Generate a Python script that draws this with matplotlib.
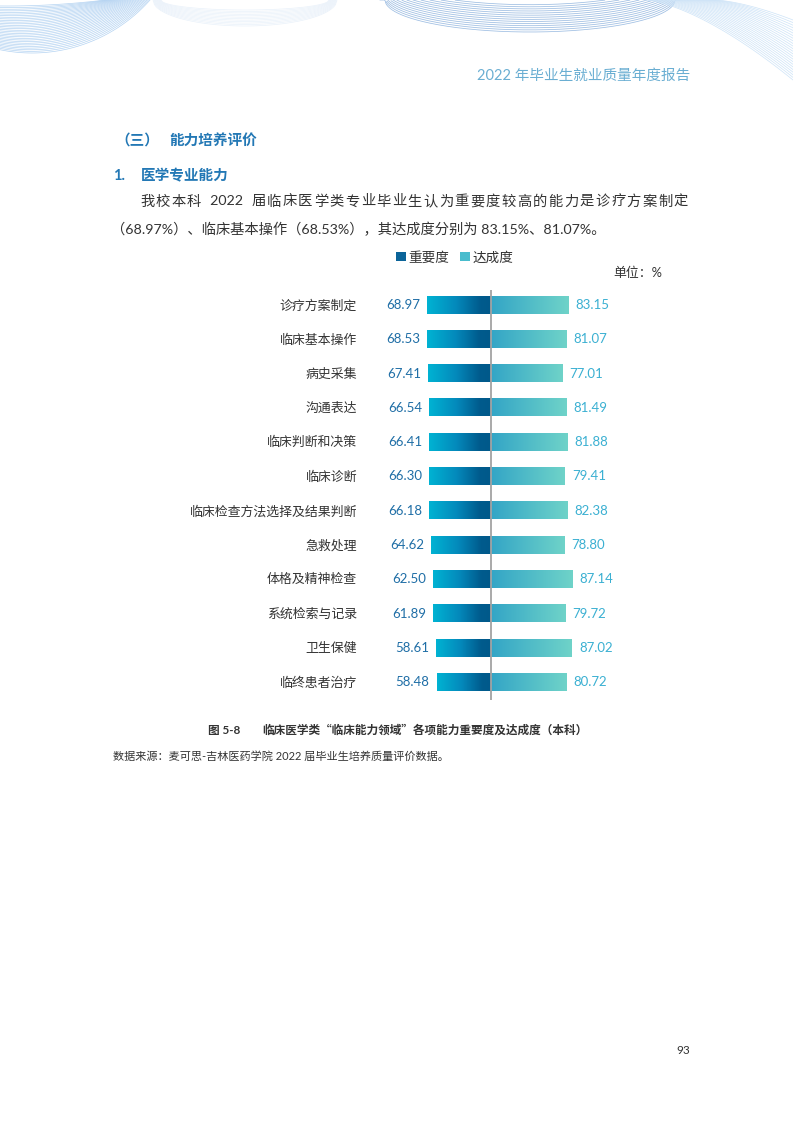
import numpy as np
import matplotlib
matplotlib.use("Agg")
import matplotlib.pyplot as plt
from matplotlib.colors import LinearSegmentedColormap
from matplotlib.patches import Patch

plt.rcParams['font.family'] = ['Lato', 'Noto Sans CJK SC', 'DejaVu Sans']

# data
abilities = ['诊疗方案制定', '临床基本操作', '病史采集', '沟通表达', '临床判断和决策',
             '临床诊断', '临床检查方法选择及结果判断', '急救处理', '体格及精神检查',
             '系统检索与记录', '卫生保健', '临终患者治疗']
importance = [68.97, 68.53, 67.41, 66.54, 66.41, 66.30, 66.18, 64.62, 62.50, 61.89, 58.61, 58.48]
achievement = [83.15, 81.07, 77.01, 81.49, 81.88, 79.41, 82.38, 78.80, 87.14, 79.72, 87.02, 80.72]
series_names = ['重要度', '达成度']

W, H = 793, 1122
fig = plt.figure(figsize=(W / 100, H / 100), dpi=100)
fig.patch.set_facecolor('white')

# page layer in pixel coords
bg = fig.add_axes([0, 0, 1, 1])
bg.set_xlim(0, W)
bg.set_ylim(H, 0)
bg.axis('off')

# header decoration: bundles of thin arcs
for k in range(30):
    t = k / 29
    yb = 53 - 47 * t
    xr = 150 - 45 * t
    cx = 32 - 25 * t
    R = ((xr - cx) ** 2 + yb ** 2) / (2 * yb)
    xs = np.linspace(0, xr, 120)
    ys = (yb - R) + np.sqrt(np.clip(R ** 2 - (xs - cx) ** 2, 0, None))
    bg.plot(xs, ys, color='#b4d3f2', lw=0.5)

for k in range(12):
    t = k / 11
    yb = 26 - 16 * t
    cx = 245
    a = 92 - 8 * t
    xs = np.linspace(cx - a, cx + a, 120)
    ys = yb * np.sqrt(np.clip(1 - ((xs - cx) / a) ** 2, 0, None))
    bg.plot(xs, ys, color='#e9f1fa', lw=0.5)

xs = np.linspace(380, 680, 300)
base = 32 * np.sqrt(np.clip(1 - ((xs - 530) / 145) ** 2, 0, None))
for k in range(14):
    ys = base - 2.1 * k
    keep = ys >= 0
    bg.plot(xs[keep], ys[keep], color='#9dbde2', lw=0.55)

for k in range(24):
    t = k / 23
    x0 = 645 + 70 * t
    y1 = 80 - 60 * t
    xs = np.linspace(x0, W, 80)
    ys = y1 * ((xs - x0) / (W - x0)) ** 1.5
    bg.plot(xs, ys, color='#cde3f7', lw=0.5)

bg.text(690, 76, '2022 年毕业生就业质量年度报告', fontsize=10.5, color='#6aaed2',
        ha='right', va='center')

blue = '#2378b5'
bg.text(115, 141, '（三）', fontsize=10.5, color=blue, fontweight='bold', va='center')
bg.text(169, 141, '能力培养评价', fontsize=10.5, color=blue, fontweight='bold', va='center')
bg.text(113, 176, '1.', fontsize=10.5, color=blue, fontweight='bold', va='center')
bg.text(141, 176, '医学专业能力', fontsize=10.5, color=blue, fontweight='bold', va='center')

fig.canvas.draw()
renderer = fig.canvas.get_renderer()


def justified(tokens, x0, x1, y, **kw):
    texts = [bg.text(0, y, tk, va='center', **kw) for tk in tokens]
    widths = [t.get_window_extent(renderer).width for t in texts]
    gap = (x1 - x0 - sum(widths)) / (len(tokens) - 1)
    x = x0
    for t, w in zip(texts, widths):
        t.set_x(x)
        x += w + gap


body = dict(fontsize=10.3, color='#333333')
line1 = list('我校本科') + ['\u20022022\u2002'] + list('届临床医学类专业毕业生认为重要度较高的能力是诊疗方案制定')
justified(line1, 140, 688, 201, **body)
bg.text(111, 229, '（68.97%）、临床基本操作（68.53%），其达成度分别为 83.15%、81.07%。',
        va='center', **body)

# chart
CENTER_PX, PX_PER_UNIT = 491, 0.93
ROW0_PX, ROW_PX = 305, 34.3
ax_l, ax_r, ax_t, ax_b = 362, 640, 290, 700
ax = fig.add_axes([ax_l / W, 1 - ax_b / H, (ax_r - ax_l) / W, (ax_b - ax_t) / H])
ax.axis('off')
ax.patch.set_alpha(0)

cmap_imp = LinearSegmentedColormap.from_list(
    'imp', [(0, '#00b3d3'), (0.45, '#0489bb'), (0.82, '#005b8d'), (1, '#00598a')])
cmap_ach = LinearSegmentedColormap.from_list('ach', [(0, '#33a5c6'), (1, '#6fd3c9')])
grad = np.linspace(0, 1, 256).reshape(1, -1)
bh = 0.25

for i, (name, vi, va_) in enumerate(zip(abilities, importance, achievement)):
    ax.imshow(grad, cmap=cmap_imp, extent=[-vi, 0, i + bh, i - bh], aspect='auto',
              interpolation='bicubic')
    ax.imshow(grad, cmap=cmap_ach, extent=[0, va_, i + bh, i - bh], aspect='auto',
              interpolation='bicubic')
    ax.annotate(f'{vi:.2f}', xy=(-vi, i), xytext=(-7, 0), textcoords='offset pixels',
                ha='right', va='center', fontsize=9.5, color='#1f6ea6')
    ax.annotate(f'{va_:.2f}', xy=(va_, i), xytext=(7, 0), textcoords='offset pixels',
                ha='left', va='center', fontsize=9.5, color='#3bb0d2')
    ax.annotate(name, xy=(0, i), xycoords=('axes fraction', 'data'), xytext=(-5, 0),
                textcoords='offset pixels', ha='right', va='center', fontsize=9.3,
                color='#333333', annotation_clip=False)

ax.set_xlim((ax_l - CENTER_PX) / PX_PER_UNIT, (ax_r - CENTER_PX) / PX_PER_UNIT)
ax.set_ylim((ax_b - ROW0_PX) / ROW_PX, (ax_t - ROW0_PX) / ROW_PX)
ax.axvline(0, color='#a3a3a3', lw=1.3)

handles = [Patch(facecolor='#0b6499', edgecolor='none'), Patch(facecolor='#49bccd', edgecolor='none')]
fig.legend(handles, series_names, loc='center', bbox_to_anchor=(455 / W, 1 - 257 / H),
           ncol=2, frameon=False, fontsize=9.8, handlelength=0.7, handleheight=0.7,
           handletextpad=0.2, columnspacing=0.8, labelcolor='#333333')
bg.text(662, 273, '单位：%', fontsize=9.3, color='#333333', ha='right', va='center')

# caption and source
cjk = ['Noto Sans CJK SC', 'DejaVu Sans']
bg.text(208, 730, '图 5-8', fontsize=8.4, fontweight='bold', color='#333333', va='center')
bg.text(262, 730, '临床医学类“临床能力领域”各项能力重要度及达成度（本科）', fontsize=8.4,
        fontweight='bold', color='#333333', va='center', family=cjk)
bg.text(113, 756, '数据来源：麦可思-吉林医药学院 2022 届毕业生培养质量评价数据。', fontsize=8,
        color='#333333', va='center')
bg.text(676, 1051, '93', fontsize=8.5, color='#333333', va='center')

fig.savefig('out.png', dpi=100, facecolor='white')
